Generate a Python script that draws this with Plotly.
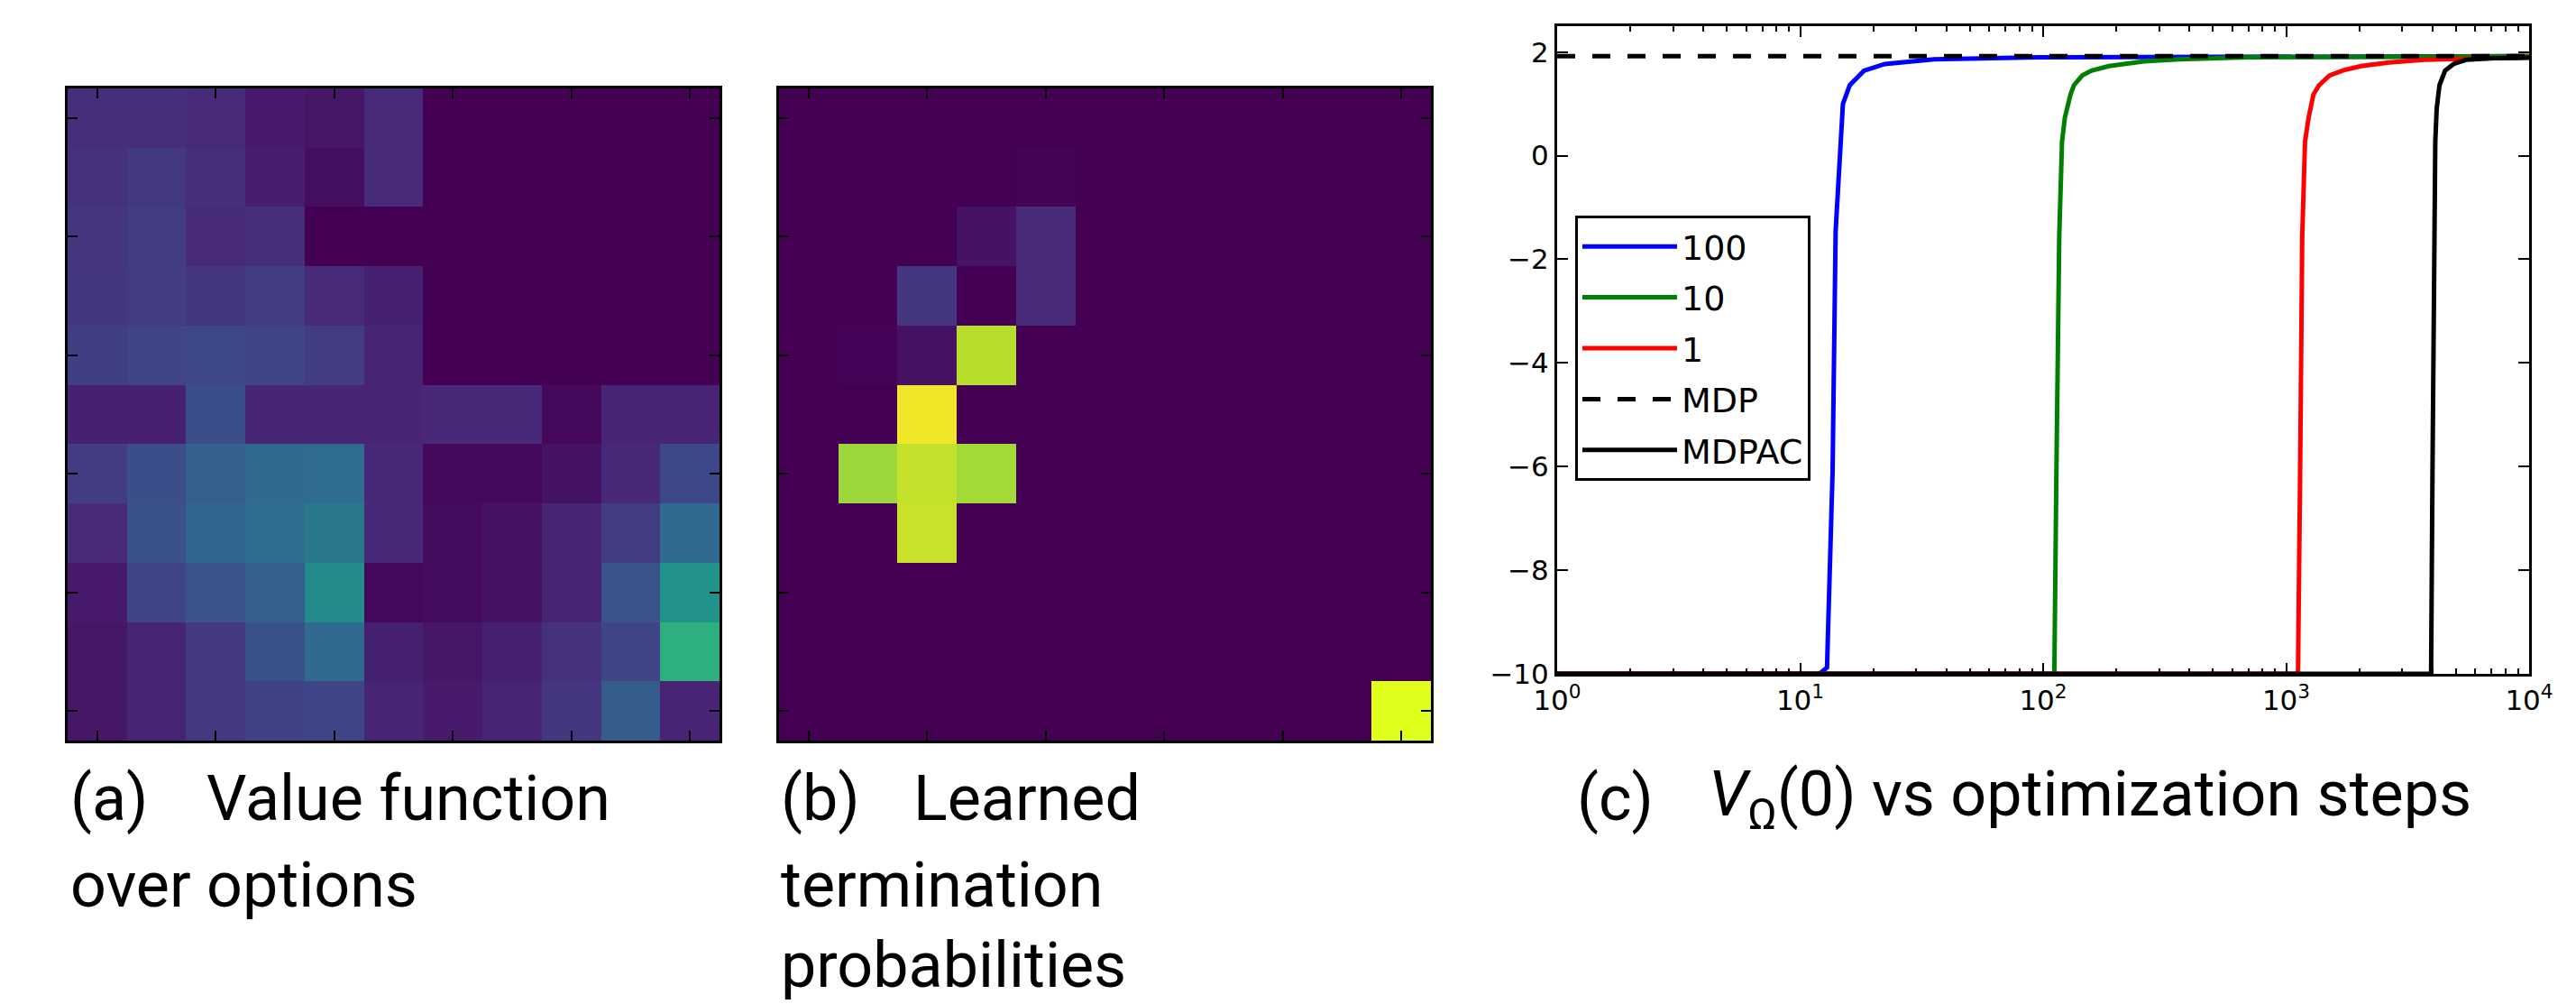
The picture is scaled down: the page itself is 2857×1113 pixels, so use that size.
import plotly.graph_objects as go
import plotly.colors as pc

W, H = 2857, 1113

# ---------------- data ----------------
# (a) value function over options, 11x11 grid (row 0 = top)
value_grid = [
    [0.13, 0.13, 0.12, 0.07, 0.06, 0.12, 0.00, 0.00, 0.00, 0.00, 0.00],
    [0.14, 0.17, 0.13, 0.08, 0.04, 0.12, 0.00, 0.00, 0.00, 0.00, 0.00],
    [0.15, 0.18, 0.12, 0.13, 0.00, 0.00, 0.00, 0.00, 0.00, 0.00, 0.00],
    [0.16, 0.18, 0.16, 0.18, 0.12, 0.09, 0.00, 0.00, 0.00, 0.00, 0.00],
    [0.19, 0.21, 0.22, 0.21, 0.18, 0.10, 0.00, 0.00, 0.00, 0.00, 0.00],
    [0.09, 0.09, 0.24, 0.10, 0.10, 0.10, 0.11, 0.11, 0.02, 0.10, 0.10],
    [0.18, 0.24, 0.30, 0.34, 0.35, 0.11, 0.02, 0.02, 0.05, 0.11, 0.22],
    [0.12, 0.25, 0.33, 0.35, 0.40, 0.11, 0.03, 0.05, 0.10, 0.18, 0.34],
    [0.07, 0.21, 0.26, 0.30, 0.48, 0.02, 0.03, 0.05, 0.10, 0.26, 0.51],
    [0.06, 0.10, 0.17, 0.25, 0.34, 0.09, 0.06, 0.09, 0.14, 0.21, 0.63],
    [0.06, 0.10, 0.17, 0.20, 0.21, 0.10, 0.07, 0.10, 0.16, 0.29, 0.10],
]

# (b) learned termination probabilities (goal cell above the viridis range)
termination_grid = [
    [0, 0, 0, 0, 0, 0, 0, 0, 0, 0, 0],
    [0, 0, 0, 0, 0.01, 0, 0, 0, 0, 0, 0],
    [0, 0, 0, 0.05, 0.12, 0, 0, 0, 0, 0, 0],
    [0, 0, 0.16, 0, 0.12, 0, 0, 0, 0, 0, 0],
    [0, 0.005, 0.05, 0.89, 0, 0, 0, 0, 0, 0, 0],
    [0, 0, 0.98, 0, 0, 0, 0, 0, 0, 0, 0],
    [0, 0.85, 0.91, 0.86, 0, 0, 0, 0, 0, 0, 0],
    [0, 0, 0.92, 0, 0, 0, 0, 0, 0, 0, 0],
    [0, 0, 0, 0, 0, 0, 0, 0, 0, 0, 0],
    [0, 0, 0, 0, 0, 0, 0, 0, 0, 0, 0],
    [0, 0, 0, 0, 0, 0, 0, 0, 0, 0, 1.1],
]
grid_index = list(range(11))
grid_ticks = [0, 2, 4, 6, 8, 10]

# (c) V_Omega(0) vs optimization steps
steps_100 = [1, 12.0, 12.9, 13.6, 14.0, 15.0, 16.0, 18.3, 22.3, 35.5, 96, 362, 1000, 10000]
value_100 = [-10, -10, -9.88, -6.1, -1.45, 1.0, 1.36, 1.64, 1.77, 1.86, 1.90, 1.91, 1.92, 1.92]

steps_10 = [1, 111.2, 113.4, 116.5, 119.6, 122.8, 129.6, 133.9, 145, 158, 186.6, 260, 362, 703, 2654, 10000]
value_10 = [-10, -10, -6.09, -1.55, 0.27, 0.73, 1.18, 1.36, 1.55, 1.64, 1.73, 1.82, 1.86, 1.90, 1.91, 1.92]

steps_1 = [1, 1119, 1142, 1165, 1196, 1237, 1295, 1366, 1509, 1723, 2034, 2653, 3697, 5150, 7177, 10000]
value_1 = [-10, -10, -6.09, -1.55, 0.27, 0.73, 1.18, 1.36, 1.55, 1.65, 1.73, 1.80, 1.85, 1.87, 1.89, 1.90]

steps_mdp = [1, 10000]
value_mdp = [1.92, 1.92]

steps_mdpac = [1, 3950, 4003, 4056, 4110, 4165, 4277, 4510, 4884, 5504, 7176, 10000]
value_mdpac = [-10, -10, -6.09, -1.55, 0.27, 0.91, 1.36, 1.64, 1.77, 1.85, 1.88, 1.89]

x_tickvals = [1, 10, 100, 1000, 10000]
x_ticktext = ["10<sup>0</sup>", "10<sup>1</sup>", "10<sup>2</sup>", "10<sup>3</sup>", "10<sup>4</sup>"]
x_minor = [m * 10 ** k for k in range(4) for m in range(2, 10)]
y_tickvals = [-10, -8, -6, -4, -2, 0, 2]

series_names = ["100", "10", "1", "MDP", "MDPAC"]
series_colors = ["#0000ff", "#008000", "#ff0000", "#000000", "#000000"]

captions = [
    ("(a)", 76, 909), ("Value function", 227, 909), ("over options", 76, 1005),
    ("(b)", 864, 909), ("Learned", 1011, 909), ("termination", 864, 1005), ("probabilities", 864, 1094),
    ("(c)", 1747, 909), ("<i>V</i><sub>Ω</sub>(0) vs optimization steps", 1893, 909),
]

# ---------------- figure ----------------
vir = pc.sequential.Viridis
zmax = 1.1
colorscale = [[i / (len(vir) - 1) / zmax, c] for i, c in enumerate(vir)] + [[1.0, "#E0FF1A"]]

fig = go.Figure()

fig.add_trace(go.Heatmap(z=value_grid, x=grid_index, y=grid_index, colorscale=colorscale,
                         zmin=0, zmax=zmax, showscale=False, xaxis="x", yaxis="y", hoverinfo="skip"))
fig.add_trace(go.Heatmap(z=termination_grid, x=grid_index, y=grid_index, colorscale=colorscale,
                         zmin=0, zmax=zmax, showscale=False, xaxis="x2", yaxis="y2", hoverinfo="skip"))

line_series = [(steps_100, value_100), (steps_10, value_10), (steps_1, value_1),
               (steps_mdp, value_mdp), (steps_mdpac, value_mdpac)]
for (xs, ys), name, col in zip(line_series, series_names, series_colors):
    fig.add_trace(go.Scatter(
        x=xs, y=ys, mode="lines", name=name, legendgroup=name,
        line=dict(color=col, width=5, dash="20px,19px" if name == "MDP" else "solid"),
        xaxis="x3", yaxis="y3"))


def px_x(p):
    return p / W


def px_y(p):
    return 1 - p / H


frame = dict(showline=True, linecolor="black", linewidth=3, mirror="allticks",
             ticks="inside", tickcolor="black", showgrid=False, zeroline=False,
             automargin=False, layer="above traces")

heat_axis = dict(frame, tickvals=grid_ticks, ticklen=11, tickwidth=2, showticklabels=False)

fig.update_layout(
    template="none",
    width=W, height=H, autosize=False,
    margin=dict(l=0, r=0, t=0, b=0, pad=0, autoexpand=False),
    paper_bgcolor="white", plot_bgcolor="white",
    xaxis=dict(heat_axis, domain=[px_x(75), px_x(798)], range=[-0.5, 10.5], anchor="y"),
    yaxis=dict(heat_axis, domain=[px_y(821), px_y(98)], range=[10.5, -0.5], anchor="x"),
    xaxis2=dict(heat_axis, domain=[px_x(864), px_x(1587)], range=[-0.5, 10.5], anchor="y2"),
    yaxis2=dict(heat_axis, domain=[px_y(821), px_y(98)], range=[10.5, -0.5], anchor="x2"),
    xaxis3=dict(frame, type="log", domain=[px_x(1727), px_x(2805)], range=[0, 4], anchor="y3",
                tickvals=x_tickvals, ticktext=x_ticktext, ticklen=12, tickwidth=1.5,
                tickfont=dict(family="DejaVu Sans", size=31, color="black"),
                minor=dict(tickmode="array", tickvals=x_minor, ticks="inside", ticklen=6,
                           tickwidth=1.5, tickcolor="black", showgrid=False)),
    yaxis3=dict(frame, domain=[px_y(747), px_y(29)], range=[-10, 2.5], anchor="x3",
                tickvals=y_tickvals, ticklen=12, tickwidth=1.5,
                tickfont=dict(family="DejaVu Sans", size=31, color="black")),
    showlegend=True,
    legend=dict(x=px_x(1747), y=px_y(239), xanchor="left", yanchor="top",
                bordercolor="black", borderwidth=3, bgcolor="white",
                font=dict(family="DejaVu Sans", size=38, color="black"),
                tracegroupgap=4, itemwidth=105),
)

for text, x, y in captions:
    fig.add_annotation(text=text, x=px_x(x), y=px_y(y - 24), xref="paper", yref="paper",
                       xanchor="left", yanchor="middle", showarrow=False,
                       font=dict(family="Roboto", size=70, color="black"))

fig.write_html("out.html", config={"displayModeBar": False},
               post_script="document.body.style.margin='0';document.body.style.padding='0';")
